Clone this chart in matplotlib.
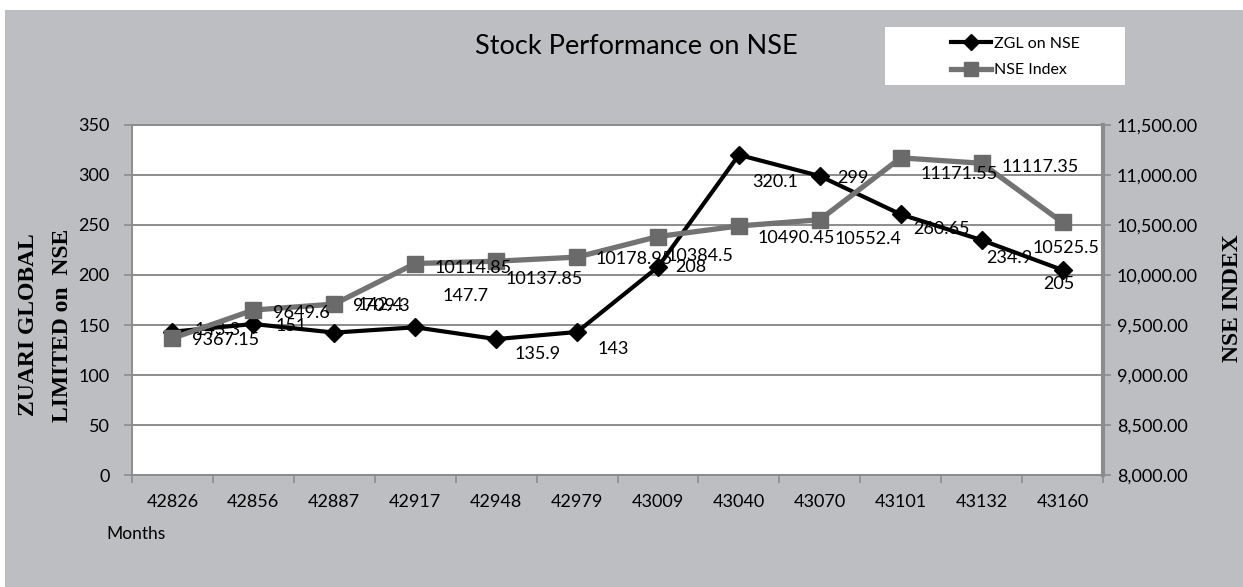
import matplotlib.pyplot as plt
from matplotlib.patches import Rectangle
from matplotlib.lines import Line2D
from matplotlib.ticker import FuncFormatter

# data
months = ["42826", "42856", "42887", "42917", "42948", "42979",
          "43009", "43040", "43070", "43101", "43132", "43160"]
zgl = [143.3, 151, 142.4, 147.7, 135.9, 143, 208, 320.1, 299, 260.65, 234.9, 205]
zgl_labels = ["143.3", "151", "142.4", "147.7", "135.9", "143", "208", "320.1",
              "299", "260.65", "234.9", "205"]
nse = [9367.15, 9649.6, 9709.3, 10114.85, 10137.85, 10178.95, 10384.5,
       10490.45, 10552.4, 11171.55, 11117.35, 10525.5]
nse_labels = ["9367.15", "9649.6", "9709.3", "10114.85", "10137.85", "10178.95",
              "10384.5", "10490.45", "10552.4", "11171.55", "11117.35", "10525.5"]

# label placement (pixel offsets from the point, y up)
zgl_off = [(22, 2), (22, -2), (23, 28), (27, 31), (18, -15), (20, -17),
           (17, 0), (13, -27), (17, -2), (12, -15), (5, -18), (-19, -14)]
nse_off = [(20, -2), (20, -3), (19, -2), (19, -4), (9, -18), (18, -2),
           (9, -19), (19, -12), (15, -19), (20, -16), (20, -4), (-30, -26)]

SANS = ["Lato", "DejaVu Sans"]
SERIF = ["Liberation Serif", "DejaVu Serif"]
BG = "#bdbec2"
GREY = "#737373"

plt.rcParams["font.family"] = SANS

fig = plt.figure(figsize=(12.43, 5.87), dpi=100)
fig.patch.set_facecolor("white")
fig.patches.append(Rectangle((5 / 1243, 0), 1, 1 - 10 / 587,
                             transform=fig.transFigure, facecolor=BG,
                             edgecolor="none", zorder=-10))

ax = fig.add_axes([132 / 1243, 112 / 587, 971 / 1243, 350 / 587])
ax.set_facecolor("white")
ax2 = ax.twinx()

x = list(range(len(months)))

ax.plot(x, zgl, color="black", lw=3, marker="D", markersize=9,
        zorder=4, clip_on=False)
ax2.plot(x, nse, color=GREY, lw=3.8, marker="s", markersize=11,
         markerfacecolor="#6a6a6a", markeredgecolor="#6a6a6a", zorder=3,
         clip_on=False)

for i in x:
    dx, dy = zgl_off[i]
    ax.annotate(zgl_labels[i], (i, zgl[i]), xytext=(dx, dy),
                textcoords="offset pixels", ha="left", va="center",
                fontsize=13, color="black", zorder=6)
    dx, dy = nse_off[i]
    ax2.annotate(nse_labels[i], (i, nse[i]), xytext=(dx, dy),
                 textcoords="offset pixels", ha="left", va="center",
                 fontsize=13, color="black", zorder=6)

ax.set_xlim(-0.5, 11.5)
ax.set_ylim(0, 350)
ax2.set_ylim(8000, 11500)
ax.set_yticks(range(0, 351, 50))
ax2.set_yticks(range(8000, 11501, 500))
ax2.yaxis.set_major_formatter(FuncFormatter(lambda v, p: f"{v:,.2f}"))

ax.set_xticks(x)
ax.set_xticklabels(months)
ax.set_xticks([i - 0.5 for i in range(13)], minor=True)
ax.tick_params(axis="x", which="major", length=0, pad=14, labelsize=13)
ax.tick_params(axis="x", which="minor", length=6, color="#8c8c8c", width=1.2)
ax.tick_params(axis="y", length=6, color="#8c8c8c", width=1.2, labelsize=13, pad=10)
ax2.tick_params(axis="y", length=6, color="#8c8c8c", width=1.2, labelsize=13, pad=4)

ax.grid(axis="y", color="#8c8c8c", lw=1.4)
ax.set_axisbelow(True)
for s in ["left", "bottom", "top"]:
    ax.spines[s].set_color("#8c8c8c")
    ax.spines[s].set_linewidth(1.4)
ax.spines["right"].set_visible(False)
for s in ["left", "bottom", "top"]:
    ax2.spines[s].set_visible(False)
ax2.spines["right"].set_color("#8c8c8c")
ax2.spines["right"].set_linewidth(3)

fig.text(636 / 1243, 1 - 47 / 587, "Stock Performance on NSE", fontsize=19.5,
         ha="center", va="center")
fig.text(29 / 1243, 1 - 325 / 587, "ZUARI GLOBAL", rotation=90, fontsize=17,
         fontweight="bold", family=SERIF, ha="center", va="center")
fig.text(62 / 1243, 1 - 325 / 587, "LIMITED on  NSE", rotation=90, fontsize=17,
         fontweight="bold", family=SERIF, ha="center", va="center")
fig.text(1232 / 1243, 1 - 298 / 587, "NSE INDEX", rotation=90, fontsize=17,
         fontweight="bold", family=SERIF, ha="center", va="center")
fig.text(106 / 1243, 1 - 534 / 587, "Months", fontsize=12.5, ha="left", va="center")

# legend box
fig.patches.append(Rectangle((885 / 1243, 1 - 85 / 587), 240 / 1243, 58 / 587,
                             transform=fig.transFigure, facecolor="white",
                             edgecolor="none", zorder=-5))
handles = [Line2D([], [], color="black", lw=3, marker="D", markersize=8),
           Line2D([], [], color=GREY, lw=3.8, marker="s", markersize=10,
                  markerfacecolor="#6a6a6a", markeredgecolor="#6a6a6a")]
fig.legend(handles, ["ZGL on NSE", "NSE Index"], loc="center left",
           bbox_to_anchor=(943 / 1243, 1 - 57 / 587), frameon=False,
           fontsize=11.5, handlelength=2.5, handletextpad=0.2, labelspacing=0.75,
           borderpad=0)

fig.savefig("out.png", dpi=100, facecolor=fig.get_facecolor())
